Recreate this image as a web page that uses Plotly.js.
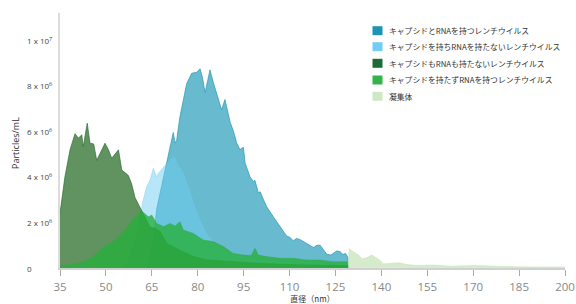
<!DOCTYPE html>
<html><head><meta charset="utf-8">
<script src="https://cdn.plot.ly/plotly-3.0.1.min.js"></script>
<style>html,body{margin:0;padding:0;background:#fff}#chart{width:576px;height:304px}</style>
</head><body><div id="chart"></div>
<script>
// Series names (legend)
const seriesNames = [
  "キャプシドとRNAを持つレンチウイルス",
  "キャプシドを持ちRNAを持たないレンチウイルス",
  "キャプシドもRNAも持たないレンチウイルス",
  "キャプシドを持たずRNAを持つレンチウイルス",
  "凝集体"
];
// Diameter (nm) and Particles/mL (x 10^6) for each series
const capsidRnaX = [63.5,65.5,66.6,68.8,70.5,71.5,72.0,72.6,73.1,74.2,75.3,76.4,78.0,79.7,80.75,81.5,82.4,84.0,85.2,86.7,87.8,88.9,90.6,91.7,92.7,93.8,94.9,95.5,96.5,97.1,98.2,98.7,99.8,100.4,101.5,102.5,104.7,106.9,109.1,110.1,111.2,112.3,113.4,115.6,117.8,119.0,120.0,121.1,122.2,123.5,124.3,125.4,126.5,127.4,128.3,129.0,129.2];
const capsidRnaY = [0,1.2,2.6,4.0,5.0,5.6,5.95,5.5,5.6,6.65,7.3,8.1,8.55,8.6,8.75,8.4,7.7,8.7,8.1,7.4,6.95,7.4,6.4,6.0,5.5,5.2,5.3,4.6,4.2,4.0,3.8,3.85,3.3,3.35,3.0,2.7,2.25,1.8,1.4,1.35,1.2,1.3,1.25,1.08,0.9,1.0,1.0,0.8,0.6,0.57,0.64,0.75,0.72,0.6,0.64,0.5,0];

const capsidOnlyX = [56,58,60,61.5,62.2,63.3,64.5,65.5,66.6,67.1,68.8,71.0,72.6,73.1,75.3,77.5,79.1,80.8,82.9,85.1,88,92,96,100,110,120,129,129.2];
const capsidOnlyY = [0,0.6,1.5,2.6,3.0,3.57,3.9,4.38,4.0,4.16,4.4,4.75,4.9,4.6,4.2,3.3,2.7,2.1,1.5,1.16,0.85,0.6,0.45,0.35,0.2,0.1,0.05,0];

const neitherX = [35,36.6,38.3,39.9,41.0,42.1,42.6,43.9,44.8,46.0,47.0,48.3,49.7,50.8,51.9,54.1,55.2,57.3,58.4,59.5,61.1,62.8,64.4,66.0,67.7,69.9,74.2,78.6,82.9,91.6,100.4,110,120,129,129.2];
const neitherY = [2.4,4.0,5.2,5.9,5.7,5.85,5.33,6.36,5.48,5.45,4.73,5.1,5.48,5.2,4.82,5.19,4.3,4.07,3.7,3.1,2.67,2.23,1.8,1.75,1.6,1.08,0.77,0.5,0.35,0.28,0.2,0.15,0.12,0.1,0];

const rnaOnlyX = [35,38,41,44,46,48,50,52,55.2,57,59.5,61.7,62.5,63.9,65.0,66.6,68.8,71.0,72.6,74.2,75.3,78.6,81.8,85.1,88.4,91.6,94.9,97.5,98.7,99.8,102.5,106.9,111.2,115.6,120,124.3,128.7,129.2];
const rnaOnlyY = [0.05,0.15,0.2,0.35,0.5,0.75,1.0,1.1,1.5,1.8,2.25,2.5,2.4,2.25,2.33,1.96,1.82,1.96,1.85,2.04,1.67,1.52,1.23,1.16,0.94,0.64,0.57,0.55,0.87,0.57,0.5,0.43,0.43,0.35,0.35,0.28,0.28,0];

const aggX = [129.2,129.5,131.0,132.5,133.6,135.2,136.9,138.3,139.6,140.7,143,145.6,148.5,151.6,157.0,163,170.1,173,176.6,185,198.4,200];
const aggY = [0,0.85,0.7,0.57,0.41,0.45,0.57,0.45,0.33,0.18,0.2,0.23,0.15,0.11,0.13,0.08,0.11,0.1,0.07,0.05,0.04,0.04];

const xTicks = [35,50,65,80,95,110,125,140,155,170,185,200];
const yTicks = [0,2,4,6,8,10];
const yTickLabels = ["0","2 x 10<sup>6</sup>","4 x 10<sup>6</sup>","6 x 10<sup>6</sup>","8 x 10<sup>6</sup>","1 x 10<sup>7</sup>"];

// styling
const fills = ["rgba(62,166,192,0.78)","rgba(110,205,240,0.5)","rgba(35,105,35,0.72)","rgba(40,175,60,0.8)","rgba(190,225,175,0.65)"];
const lines = ["rgba(45,152,178,0.9)","rgba(110,200,235,0.6)","rgba(40,100,45,0.8)","rgba(40,170,60,0.6)","rgba(190,225,175,0.8)"];
const legendColors = ["#1b95b3","#72cdf4","#1d6b37","#34b44a","#cfe8c4"];

const xs = [capsidRnaX, capsidOnlyX, neitherX, rnaOnlyX, aggX];
const ys = [capsidRnaY, capsidOnlyY, neitherY, rnaOnlyY, aggY];
const traces = xs.map((x,i)=>({
  type:"scatter", mode:"lines", x:x, y:ys[i], name:seriesNames[i],
  fill:"tozeroy", fillcolor:fills[i],
  line:{color:lines[i], width: i===0||i===2 ? 0.8 : 0.6},
  showlegend:false, hoverinfo:"skip"
}));

const W=576,H=304,L=60,R=11,T=13,B=36;
const pw=W-L-R, ph=H-T-B;
const px2x = p => (p-L)/pw;
const py2y = p => (H-B-p)/ph;

const annotations = [];
const shapes = [];
yTicks.forEach((v,i)=>{
  annotations.push({xref:"paper", yref:"y", x:px2x(25), y:v, xanchor:"left", yanchor:"middle",
    text:yTickLabels[i], showarrow:false, font:{family:"Open Sans, sans-serif", size:8, color:"#444"}});
});
annotations.push({xref:"paper", yref:"paper", x:px2x(15), y:py2y(143), text:"Particles/mL",
  textangle:-90, showarrow:false, xanchor:"center", yanchor:"middle",
  font:{family:"Open Sans, sans-serif", size:9, color:"#333"}});

const rowY=[30.7,46.7,63.3,80,96.3];
seriesNames.forEach((n,i)=>{
  shapes.push({type:"rect", xref:"paper", yref:"paper", x0:px2x(372.5), x1:px2x(382.5),
    y0:py2y(rowY[i]+4.5), y1:py2y(rowY[i]-4.5), fillcolor:legendColors[i], line:{width:0}});
  annotations.push({xref:"paper", yref:"paper", x:px2x(386.5), y:py2y(rowY[i]), xanchor:"left", yanchor:"middle",
    text:n, showarrow:false, font:{family:"Noto Sans CJK JP, sans-serif", size:7.8, color:"#333"}});
});

const layout = {
  width:W, height:H, margin:{l:L,r:R,t:T,b:B,pad:0},
  paper_bgcolor:"#fff", plot_bgcolor:"#fff", showlegend:false,
  xaxis:{range:[35,200], tickvals:xTicks, ticktext:xTicks.map(String), showgrid:false, zeroline:false,
    showline:true, linecolor:"#d0d0d0", linewidth:1.5, ticks:"outside", ticklen:6, tickcolor:"#aaa", tickwidth:1,
    ticklabelstandoff:2,
    tickfont:{family:"Open Sans, sans-serif", size:11.5, color:"#888"},
    title:{text:"直径（nm）", standoff:4, font:{family:"Noto Sans CJK JP, sans-serif", size:8, color:"#333"}}},
  yaxis:{range:[0,11.2], tickvals:yTicks, showticklabels:false, showgrid:false, zeroline:false,
    showline:true, linecolor:"#dcdcdc", linewidth:2, ticks:""},
  annotations:annotations, shapes:shapes
};
Plotly.newPlot("chart", traces, layout, {staticPlot:true, displayModeBar:false});
</script></body></html>
